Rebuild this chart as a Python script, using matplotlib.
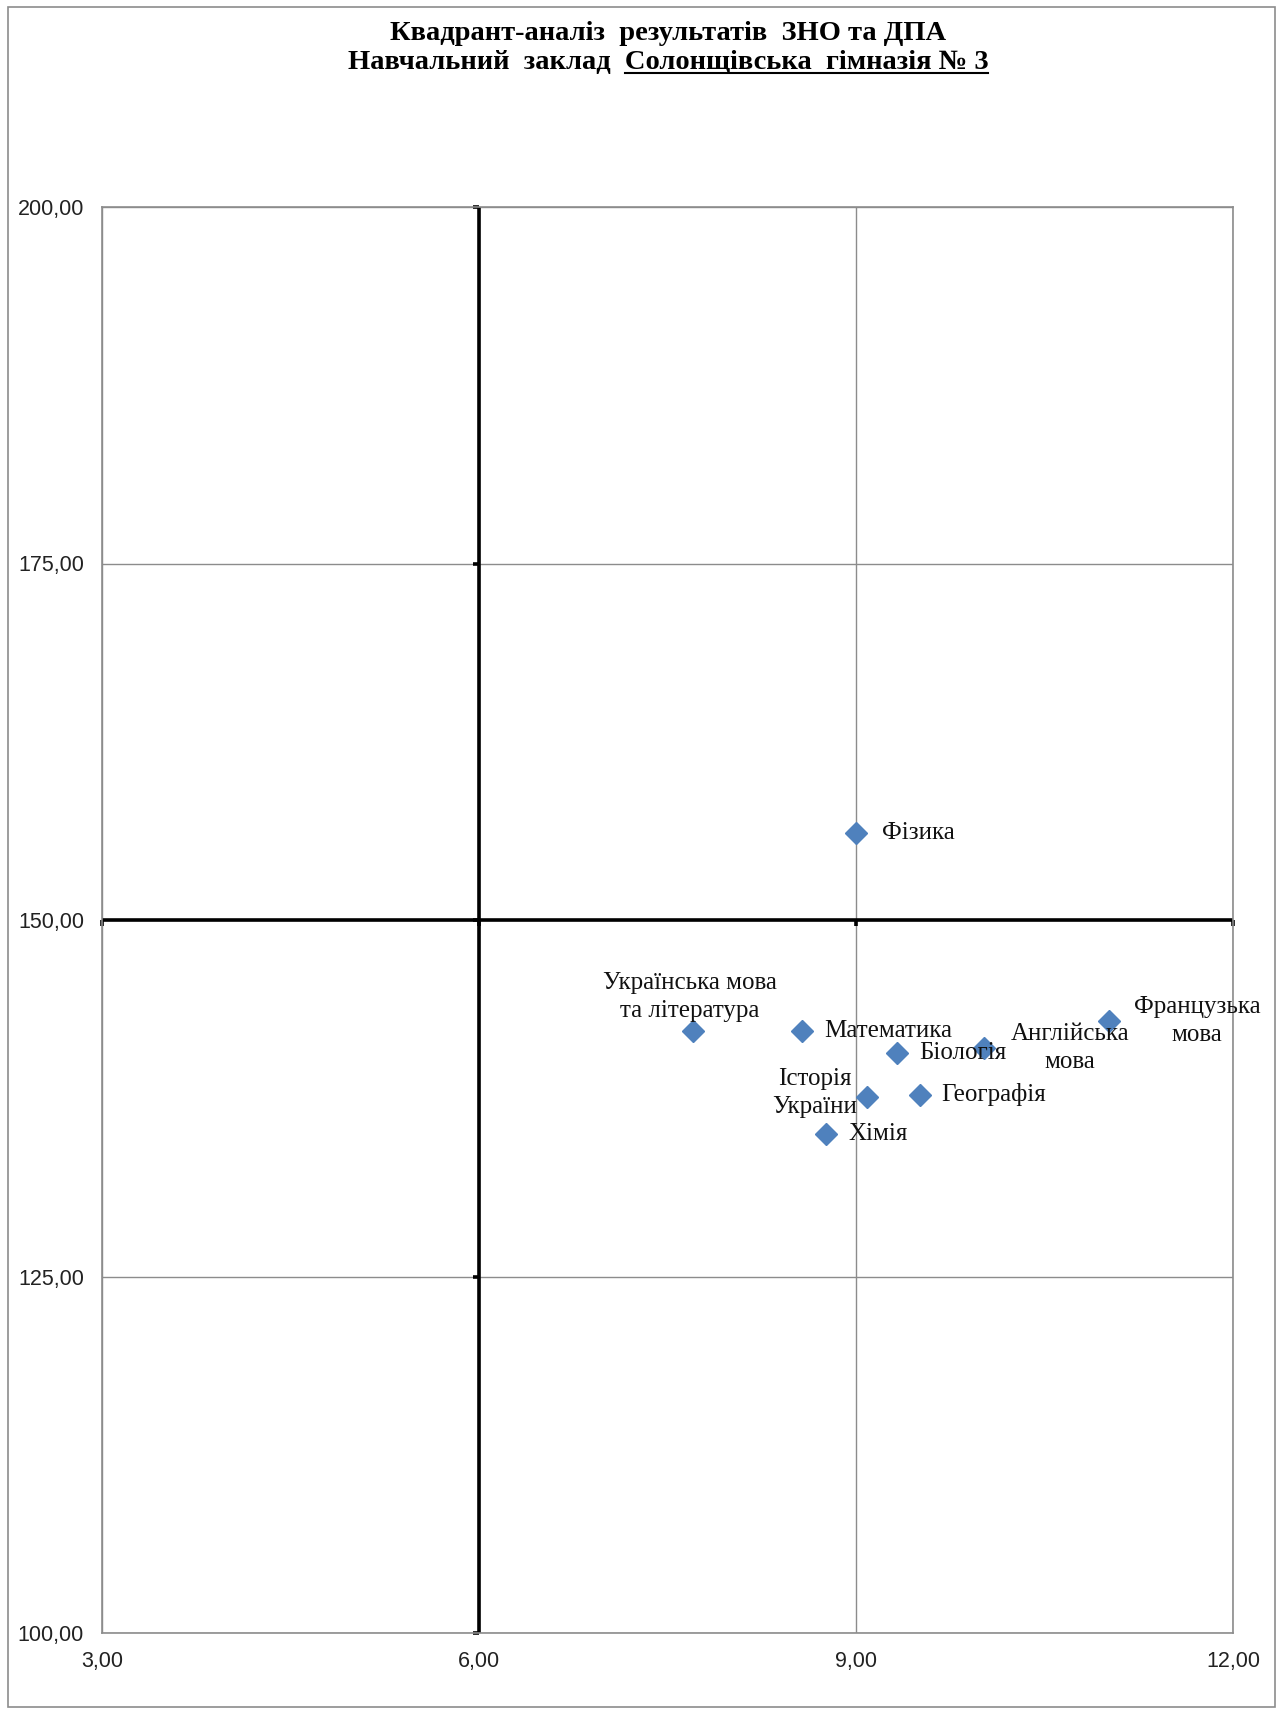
import matplotlib
matplotlib.use('Agg')
import matplotlib.pyplot as plt
import numpy as np
from matplotlib.ticker import FuncFormatter
from matplotlib.lines import Line2D
from matplotlib.patches import Rectangle

# data
subjects = ['Фізика', 'Українська мова\nта література', 'Математика', 'Біологія',
            'Англійська\nмова', 'Французька\nмова', 'Історія\nУкраїни',
            'Географія', 'Хімія']
x_vals = [9.00, 7.70, 8.57, 9.33, 10.02, 11.01, 9.09, 9.51, 8.76]
y_vals = [156.1, 142.2, 142.2, 140.7, 141.0, 142.9, 137.6, 137.75, 135.0]

x_ticks = [3, 6, 9, 12]
y_ticks = [100, 125, 150, 175, 200]
x_cross = 6
y_cross = 150

title1 = 'Квадрант-аналіз  результатів  ЗНО та ДПА'
title2_a = 'Навчальний  заклад  '
title2_b = 'Солонщівська  гімназія № 3'

# label placement (offset in points, ha, va)
label_pos = {
    'Фізика': ((19, 0), 'left', 'center'),
    'Українська мова\nта література': ((-2, 7), 'center', 'bottom'),
    'Математика': ((16, 0), 'left', 'center'),
    'Біологія': ((16, 0), 'left', 'center'),
    'Англійська\nмова': ((19, 0), 'left', 'center'),
    'Французька\nмова': ((18, 0), 'left', 'center'),
    'Історія\nУкраїни': ((-7, 3), 'right', 'center'),
    'Географія': ((15, 0), 'left', 'center'),
    'Хімія': ((16, 0), 'left', 'center'),
}

serif = ['Liberation Serif', 'DejaVu Serif']
sans = ['Liberation Sans', 'DejaVu Sans']

fig = plt.figure(figsize=(12.79, 17.09), dpi=100)
ax = fig.add_axes([102 / 1279, 1 - 1633 / 1709, (1233 - 102) / 1279, (1633 - 207) / 1709])

ax.set_xlim(3, 12)
ax.set_ylim(100, 200)
ax.set_xticks(x_ticks)
ax.set_yticks(y_ticks)
fmt = FuncFormatter(lambda v, p: f'{v:.2f}'.replace('.', ','))
ax.xaxis.set_major_formatter(fmt)
ax.yaxis.set_major_formatter(fmt)
ax.tick_params(length=0, pad=13, labelsize=15.5, labelcolor='#222222')
for lab in ax.get_xticklabels() + ax.get_yticklabels():
    lab.set_family(sans)

ax.grid(True, color='#8c8c8c', lw=1.0)
ax.set_axisbelow(True)
for s in ax.spines.values():
    s.set_color('#8c8c8c')
    s.set_linewidth(1.2)

# quadrant lines (the crossing axes)
ax.axvline(x_cross, color='black', lw=2.6, zorder=2)
ax.axhline(y_cross, color='black', lw=2.6, zorder=2)
ax.plot([x_cross] * len(y_ticks), y_ticks, ls='none', marker=0, ms=4, mew=2.6,
        color='black', clip_on=False, zorder=2)
ax.plot(x_ticks, [y_cross] * len(x_ticks), ls='none', marker=3, ms=4, mew=2.6,
        color='black', clip_on=False, zorder=2)

ax.plot(x_vals, y_vals, ls='none', marker='D', ms=11, color='#4f81bd',
        mec='#4f81bd', zorder=3)

for name, xv, yv in zip(subjects, x_vals, y_vals):
    off, ha, va = label_pos[name]
    ax.annotate(name, (xv, yv), xytext=off, textcoords='offset points',
                ha=ha, va=va, multialignment='center', linespacing=1.35,
                fontsize=18, family=serif, color='#111111', zorder=4)

# titles
fig.text(668 / 1279, 1 - 33 / 1709, title1, ha='center', va='center',
         fontsize=20.5, fontweight='bold', family=serif)
t2 = fig.text(668 / 1279, 1 - 69 / 1709, title2_a + title2_b, ha='center',
              va='baseline', fontsize=20.5, fontweight='bold', family=serif)

fig.canvas.draw()
r = fig.canvas.get_renderer()
full = t2.get_window_extent(r)
pre = fig.text(0, 0, title2_a.rstrip() + '  ', fontsize=20.5, fontweight='bold',
               family=serif)
pre_w = pre.get_window_extent(r).width
pre.remove()
fw, fh = fig.bbox.width, fig.bbox.height
uy = 1 - 73 / 1709
fig.add_artist(Line2D([(full.x0 + pre_w) / fw, full.x1 / fw], [uy, uy],
                      color='black', lw=1.5, transform=fig.transFigure))

# chart area border
fig.add_artist(Rectangle((8 / 1279, 2 / 1709), 1267 / 1279, 1700 / 1709,
                         fill=False, ec='#8c8c8c', lw=1.2,
                         transform=fig.transFigure))

fig.savefig('out.png', dpi=100)
